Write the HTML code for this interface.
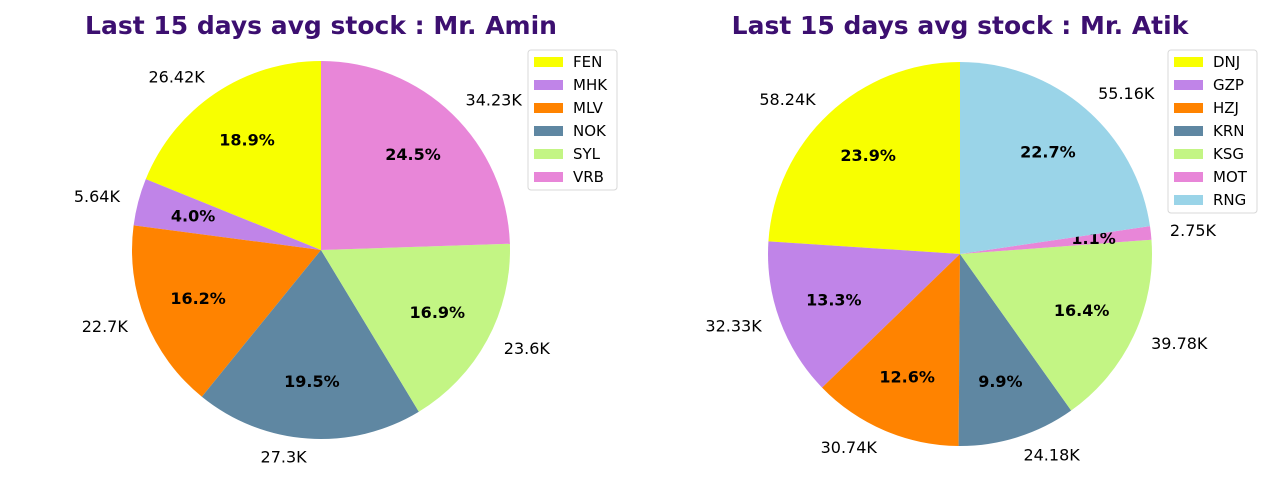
<!DOCTYPE html>
<html><head><meta charset="utf-8"><style>
body{margin:0;background:#fff;font-family:"DejaVu Sans","Liberation Sans",sans-serif}
</style></head><body>
<svg id="c" width="1280" height="480" xmlns="http://www.w3.org/2000/svg" font-family="DejaVu Sans, Liberation Sans, sans-serif"></svg>
<script>
const leftCategories=["FEN","MHK","MLV","NOK","SYL","VRB"];
const leftValues=[26.42,5.64,22.7,27.3,23.6,34.23];
const leftLabels=["26.42K","5.64K","22.7K","27.3K","23.6K","34.23K"];
const rightCategories=["DNJ","GZP","HZJ","KRN","KSG","MOT","RNG"];
const rightValues=[58.24,32.33,30.74,24.18,39.78,2.75,55.16];
const rightLabels=["58.24K","32.33K","30.74K","24.18K","39.78K","2.75K","55.16K"];
const colors={FEN:"#f8ff00",MHK:"#c084e8",MLV:"#ff8300",NOK:"#5f87a2",SYL:"#c3f584",VRB:"#e886d8",
DNJ:"#f8ff00",GZP:"#c084e8",HZJ:"#ff8300",KRN:"#5f87a2",KSG:"#c3f584",MOT:"#e886d8",RNG:"#9ad4e8"};
const svg=document.getElementById('c');
const NS="http://www.w3.org/2000/svg";
function mk(t,a,p){const e=document.createElementNS(NS,t);for(const k in a)e.setAttribute(k,a[k]);(p||svg).appendChild(e);return e;}
function pie(cats,vals,labs,cx,cy,r,title,lx,ly,prefix){
  const g=mk('g',{});
  
  
  const t=mk('text',{x:cx,y:34,'text-anchor':'middle','font-size':25,'font-weight':'bold',fill:'#3c0f70'},g);
  t.textContent=title;
  
  
  const sum=vals.reduce((a,b)=>a+b,0);
  let a0=90;
  vals.forEach((v,i)=>{
    const sw=v/sum*360,a1=a0+sw,am=(a0+a1)/2*Math.PI/180;
    const p=(a)=>[cx+r*Math.cos(a*Math.PI/180),cy-r*Math.sin(a*Math.PI/180)];
    const [x0,y0]=p(a0),[x1,y1]=p(a1);
    const path=mk('path',{d:`M${cx},${cy}L${x0},${y0}A${r},${r} 0 ${sw>180?1:0} 0 ${x1},${y1}Z`,fill:colors[cats[i]]},g);
    
    
    const lxp=cx+1.1*r*Math.cos(am),lyp=cy-1.1*r*Math.sin(am);
    const l=mk('text',{x:lxp,y:lyp+5,'text-anchor':Math.cos(am)<0?'end':'start','font-size':16,fill:'#000'},g);
    l.textContent=labs[i];
    
    
    const px=cx+0.7*r*Math.cos(am),py=cy-0.7*r*Math.sin(am);
    const pt=mk('text',{x:px,y:py+5,'text-anchor':'middle','font-size':16,'font-weight':'bold',fill:'#000'},g);
    pt.textContent=(v/sum*100).toFixed(1)+'%';
    
    
    a0=a1;
  });
  const lg=mk('g',{},g);
  
  
  mk('rect',{x:lx,y:ly,width:89,height:cats.length*23+2,rx:3,fill:'#fff',stroke:'#d8d8d8'},lg);
  cats.forEach((c,i)=>{
    const e=mk('g',{},lg);
    
    
    mk('rect',{x:lx+6,y:ly+7+i*23,width:29,height:10,fill:colors[c]},e);
    const tx=mk('text',{x:lx+45,y:ly+17+i*23,'font-size':15,fill:'#000'},e);
    tx.textContent=c;
  });
}
pie(leftCategories,leftValues,leftLabels,321,250,189,"Last 15 days avg stock : Mr. Amin",528,50,"amin");
pie(rightCategories,rightValues,rightLabels,960,254,192,"Last 15 days avg stock : Mr. Atik",1168,50,"atik");
</script>
</body></html>
